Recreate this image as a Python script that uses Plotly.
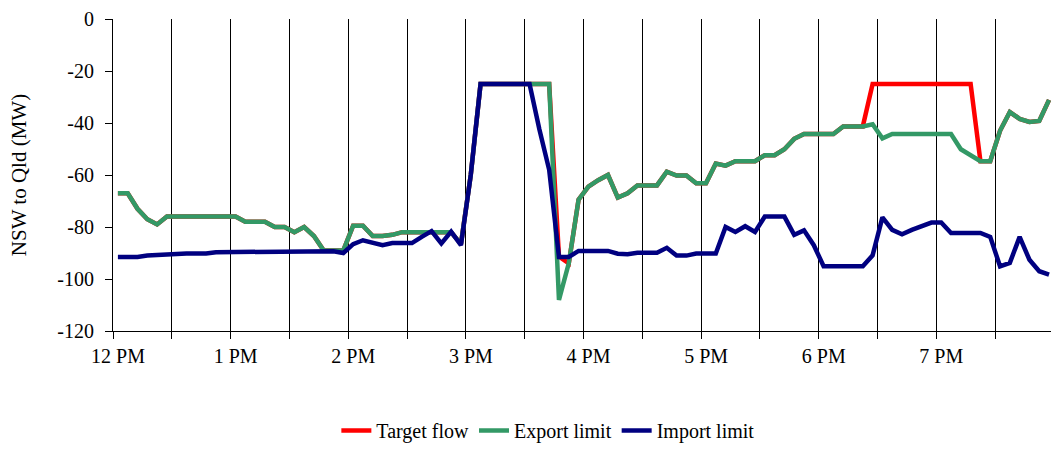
import pandas as pd
import plotly.graph_objects as go

# 5-minute intervals from 12:00 to 19:55 (each value is plotted in the middle of its interval)
times = pd.date_range("2024-01-01 12:00", periods=96, freq="5min")

target_flow = [
    -67, -67, -73, -77, -79, -76, -76, -76, -76, -76, -76, -76,
    -76, -78, -78, -78, -80, -80, -82, -80, -83.5, -89, -89, -89,
    -79.5, -79.5, -83.5, -83.5, -83, -82, -82, -82, -82, -82, -82, -86.5,
    -60, -25, -25, -25, -25, -25, -25, -25, -25, -91.4, -94, -69.5,
    -64.5, -62, -60, -68.7, -67, -64, -64, -64, -58.7, -60.2, -60.2, -63.2,
    -63.2, -55.6, -56.4, -54.7, -54.7, -54.7, -52.4, -52.4, -50.1, -46.1, -44.2, -44.2,
    -44.2, -44.2, -41.3, -41.3, -41.3, -25, -25, -25, -25, -25, -25, -25,
    -25, -25, -25, -25, -54.7, -54.7, -43, -35.8, -38.4, -39.6, -39.2, -31.1,
]

export_limit = [
    -67, -67, -73, -77, -79, -76, -76, -76, -76, -76, -76, -76,
    -76, -78, -78, -78, -80, -80, -82, -80, -83.5, -89, -89, -89,
    -79.5, -79.5, -83.5, -83.5, -83, -82, -82, -82, -82, -82, -82, -86.5,
    -60, -25, -25, -25, -25, -25, -25, -25, -25, -108, -94, -69.5,
    -64.5, -62, -60, -68.7, -67, -64, -64, -64, -58.7, -60.2, -60.2, -63.2,
    -63.2, -55.6, -56.4, -54.7, -54.7, -54.7, -52.4, -52.4, -50.1, -46.1, -44.2, -44.2,
    -44.2, -44.2, -41.3, -41.3, -41.3, -40.5, -45.9, -44.2, -44.2, -44.2, -44.2, -44.2,
    -44.2, -44.2, -50.1, -52.2, -54.7, -54.7, -43, -35.8, -38.4, -39.6, -39.2, -31.1,
]

import_limit = [
    -91.5, -91.5, -91.5, -91, -90.8, -90.2, -90.2, -90.2, -90.2, -90.2, -89.7, -89.7,
    -89.7, -89.7, -89.7, -89.7, -89.7, -89.7, -89.7, -89.7, -89.7, -89.7, -89.3, -90,
    -86.6, -85.1, -86, -87, -86.2, -86.2, -86.2, -83.8, -81.6, -86.3, -81.8, -87,
    -60, -25, -25, -25, -25, -25, -25, -42.4, -58, -91.5, -91.5, -89.2,
    -89.2, -89.2, -89.2, -90.3, -90.5, -89.9, -89.9, -89.9, -88, -91, -91, -90.2,
    -90.2, -90.2, -80, -81.9, -79.7, -81.9, -76, -76, -76, -83, -81.3, -87,
    -95.1, -95.1, -95.1, -95.1, -95.1, -90.9, -76.3, -81.1, -82.8, -81.1, -79.8, -78.3,
    -78.3, -82.3, -82.3, -82.3, -82.3, -83.8, -95.1, -93.8, -83.8, -92.6, -97, -98.3,
]

y_tick_vals = [0, -20, -40, -60, -80, -100, -120]
y_tick_text = ["0", "-20", "-40", "-60", "-80", "-100", "-120"]

FONT = "Liberation Serif, Times New Roman, serif"
PERIOD_MS = 5 * 60 * 1000

fig = go.Figure()
for name, vals, color in [("Target flow", target_flow, "#FF0000"),
                          ("Export limit", export_limit, "#339966"),
                          ("Import limit", import_limit, "#000080")]:
    fig.add_trace(go.Scatter(x=times, y=vals, mode="lines", name=name,
                             xperiod=PERIOD_MS, xperiodalignment="middle",
                             line=dict(color=color, width=4.5)))

fig.update_layout(
    width=1051, height=450,
    margin=dict(l=113, r=0, t=19, b=112),
    paper_bgcolor="white", plot_bgcolor="white",
    font=dict(family=FONT, size=20, color="black"),
    showlegend=True,
    legend=dict(orientation="h", x=0.4636, xanchor="center", y=-0.32, yanchor="middle",
                font=dict(family=FONT, size=20, color="black"),
                bgcolor="rgba(0,0,0,0)", itemwidth=30, tracegroupgap=0),
    xaxis=dict(
        type="date",
        range=["2024-01-01 12:00:00", "2024-01-01 19:58:30"],
        tick0="2024-01-01 12:00:00", dtick=3600000,
        tickformat="%-I %p",
        ticklabelshift=5,
        ticks="outside", ticklen=7, tickcolor="black", tickwidth=1,
        showgrid=True, gridcolor="black", gridwidth=1,
        minor=dict(dtick=1800000, tick0="2024-01-01 12:00:00", showgrid=True,
                   gridcolor="black", gridwidth=1, ticks="outside", ticklen=7,
                   tickcolor="black"),
        showline=True, linecolor="black", linewidth=1,
        zeroline=False, automargin=False,
        tickfont=dict(family=FONT, size=20, color="black"),
        tickangle=0,
    ),
    yaxis=dict(
        range=[-120, 0],
        tickmode="array", tickvals=y_tick_vals, ticktext=y_tick_text,
        ticks="outside", ticklen=7, tickcolor="black", tickwidth=1,
        showgrid=False, zeroline=False,
        showline=True, linecolor="black", linewidth=1,
        tickfont=dict(family=FONT, size=20, color="black"),
        ticklabelstandoff=7, automargin=False,
        title=dict(text="NSW to Qld (MW)", font=dict(family=FONT, size=21, color="black"),
                   standoff=24),
    ),
)

fig.write_html("out.html", config={"displayModeBar": False},
               post_script="document.body.style.margin='0';")
